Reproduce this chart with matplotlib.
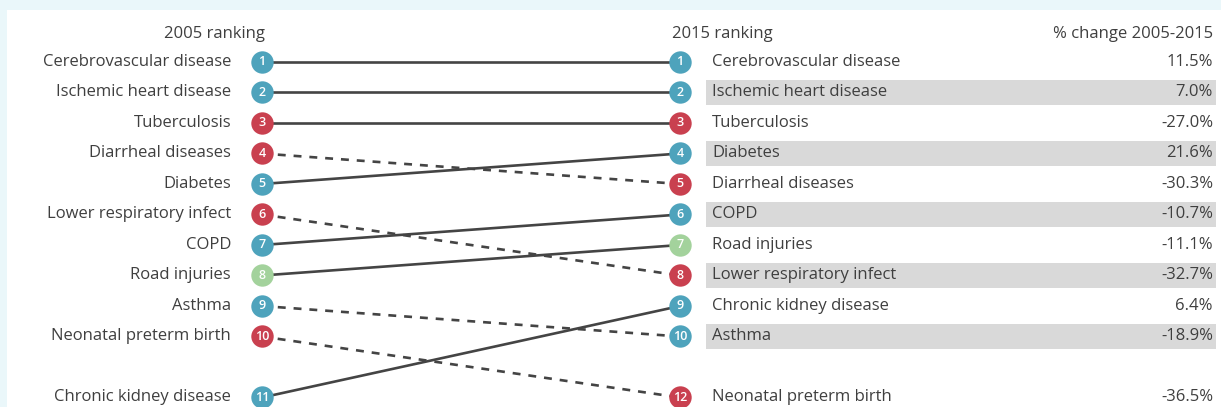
import matplotlib.pyplot as plt
from matplotlib.patches import Rectangle

# data
names_2005 = ['Cerebrovascular disease', 'Ischemic heart disease', 'Tuberculosis',
              'Diarrheal diseases', 'Diabetes', 'Lower respiratory infect', 'COPD',
              'Road injuries', 'Asthma', 'Neonatal preterm birth', 'Chronic kidney disease']
rank_2005 = [1, 2, 3, 4, 5, 6, 7, 8, 9, 10, 11]
rank_2015 = [1, 2, 3, 5, 4, 8, 6, 7, 10, 12, 9]
category = ['ncd', 'ncd', 'comm', 'comm', 'ncd', 'comm', 'ncd', 'inj', 'ncd', 'comm', 'ncd']
pct_change = [11.5, 7.0, -27.0, -30.3, 21.6, -32.7, -10.7, -11.1, -18.9, -36.5, 6.4]

colors = {'ncd': '#4ea3bc', 'comm': '#c9404f', 'inj': '#a3d29c'}
txt = '#3f3f3f'

plt.rcParams['font.family'] = ['Open Sans', 'DejaVu Sans']

fig = plt.figure(figsize=(12.21, 4.07), dpi=100, facecolor='#eaf7fa')
ax = fig.add_axes([7 / 1221, 0, 1 - 7 / 1221, 1 - 10 / 407])
ax.set_facecolor('white')
for s in ax.spines.values():
    s.set_visible(False)
ax.set_xticks([])
ax.set_yticks([])

# x in pixels, y in row slots
step = 30.5
ax.set_xlim(7, 1221)
ax.set_ylim(1 + (407 - 62) / step, 1 - (62 - 10) / step)

xl, xr = 262, 680
fs = 12


def slot(r):
    # rows past 10 are pushed down one, leaving an empty row
    return r if r <= 10 else 12


for i, name in enumerate(names_2005):
    y0 = slot(rank_2005[i])
    y1 = slot(rank_2015[i])
    ls = '-' if rank_2015[i] <= rank_2005[i] else (0, (3, 3))
    ax.plot([xl, xr], [y0, y1], color='#444444', lw=1.9, ls=ls, zorder=2)
    c = colors[category[i]]
    ax.scatter([xl, xr], [y0, y1], s=260, color=c, zorder=3, linewidths=0)
    ax.text(xl, y0, str(rank_2005[i]), color='white', fontsize=9, ha='center',
            va='center', fontweight='semibold', zorder=4)
    ax.text(xr, y1, str(rank_2015[i]), color='white', fontsize=9, ha='center',
            va='center', fontweight='semibold', zorder=4)
    ax.text(xl - 31, y0, name, color=txt, fontsize=fs, ha='right', va='center')
    if rank_2015[i] % 2 == 0 and rank_2015[i] <= 10:
        ax.add_patch(Rectangle((706, y1 - 0.42), 510, 0.84, color='#d9d9d9', lw=0, zorder=1))
    ax.text(712, y1, name, color=txt, fontsize=fs, ha='left', va='center', zorder=2)
    ax.text(1213, y1, f'{pct_change[i]:.1f}%', color=txt, fontsize=fs, ha='right',
            va='center', zorder=2)

ax.text(214, 0.07, '2005 ranking', color=txt, fontsize=fs, ha='center', va='center')
ax.text(672, 0.07, '2015 ranking', color=txt, fontsize=fs, ha='left', va='center')
ax.text(1213, 0.07, '% change 2005-2015', color=txt, fontsize=fs, ha='right', va='center')

fig.savefig('out.png', dpi=100, facecolor=fig.get_facecolor())
